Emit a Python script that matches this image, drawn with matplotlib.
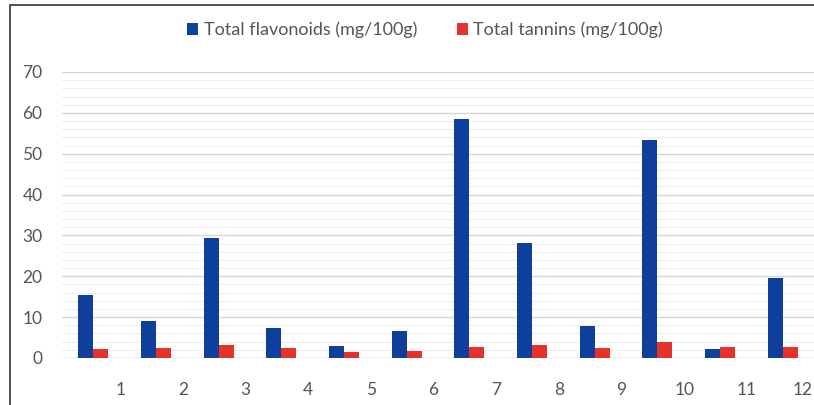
import matplotlib.pyplot as plt
import numpy as np
from matplotlib.patches import Rectangle
from matplotlib.ticker import MultipleLocator

samples = ['1', '2', '3', '4', '5', '6', '7', '8', '9', '10', '11', '12']
flavonoids = [15.4, 9.1, 29.4, 7.4, 3.0, 6.6, 58.5, 28.2, 7.9, 53.3, 2.3, 19.7]
tannins = [2.1, 2.4, 3.3, 2.4, 1.4, 1.7, 2.8, 3.3, 2.4, 4.0, 2.8, 2.8]


def output():
    plt.rcParams['font.family'] = ['Lato', 'DejaVu Sans']
    fig = plt.figure(figsize=(8.14, 4.05), dpi=100)
    ax = fig.add_axes([62 / 814, 1 - 358 / 405, 752 / 814, 286 / 405])

    x = np.arange(1, len(samples) + 1)
    w = 0.24
    ax.bar(x - w / 2, flavonoids, w, color='#0f3f9c', label='Total flavonoids (mg/100g)', zorder=3)
    ax.bar(x + w / 2, tannins, w, color='#e5322b', label='Total tannins (mg/100g)', zorder=3)

    ax.set_xlim(0.5, 12.5)
    ax.set_ylim(0, 70)
    ax.yaxis.set_major_locator(MultipleLocator(10))
    ax.yaxis.set_minor_locator(MultipleLocator(2))
    ax.grid(axis='y', which='major', color='#d6d6d6', linewidth=1.0, zorder=0)
    ax.grid(axis='y', which='minor', color='#eeeeee', linewidth=0.8, zorder=0)
    ax.axhline(0, color='#d0d0d0', linewidth=1.0, zorder=2)

    # labels sit to the right of each group, like the original
    ticks = x + 0.43
    ticks[-1] = x[-1] + 0.32
    ax.set_xticks(ticks)
    ax.set_xticklabels(samples)
    for s in ax.spines.values():
        s.set_visible(False)
    ax.tick_params(axis='both', which='both', length=0, colors='#555555', labelsize=12.5)
    ax.tick_params(axis='x', pad=17)
    ax.tick_params(axis='y', pad=14)

    fig.legend(loc='center', bbox_to_anchor=(425 / 814, 1 - 30 / 405), ncol=2,
               frameon=False, fontsize=13, handlelength=0.6, handleheight=0.6,
               handletextpad=0.3, columnspacing=2.2, labelcolor='#555555')

    fig.patches.append(Rectangle((10 / 814, -0.1), 1.0, 1 - 5 / 405 + 0.1,
                                 transform=fig.transFigure, fill=False,
                                 edgecolor='#333333', linewidth=1.2))
    fig.savefig('out.png', dpi=100)


if __name__ == '__main__':
    output()
